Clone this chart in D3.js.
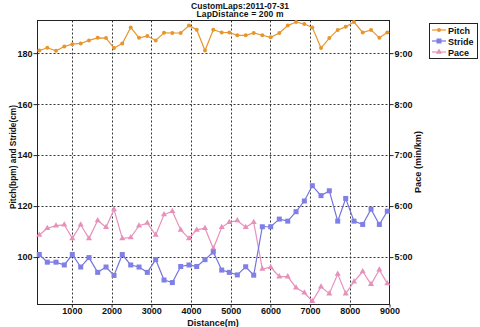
<!DOCTYPE html>
<html><head><meta charset="utf-8">
<script src="https://cdn.jsdelivr.net/npm/d3@7"></script>
<style>body{margin:0;background:#fff}svg{display:block}text{font-family:"Liberation Sans",Arial,sans-serif;font-weight:bold;fill:#111}</style>
</head><body><svg id="c" width="480" height="327"></svg>
<script>
const distances = [179,381,600,809,1011,1222,1431,1650,1860,2061,2270,2482,2691,2900,3111,3321,3530,3741,3950,4144,4353,4562,4774,4965,5167,5378,5580,5797,6008,6225,6437,6646,6855,7056,7275,7484,7696,7897,8106,8325,8535,8744,8945];
const pitch = [181.0,182.1,180.9,182.6,183.5,183.8,185.0,186.0,185.9,182.0,183.8,190.1,186.0,186.7,185.0,188.0,187.9,187.9,190.8,189.2,181.0,189.2,188.1,188.1,187.0,187.0,187.9,187.0,186.2,187.9,190.8,192.2,191.4,190.1,182.0,185.9,189.1,190.3,192.2,188.1,189.1,186.0,188.1];
const stride = [101.0,98.0,98.0,96.9,101.0,96.1,99.8,94.0,96.1,92.8,101.0,96.9,96.1,94.0,99.0,91.0,90.0,96.3,96.9,96.3,99.0,102.0,94.9,94.0,93.0,96.2,92.9,111.9,111.9,114.9,114.1,117.8,122.0,128.0,124.1,126.0,114.1,123.0,114.1,112.8,118.8,112.8,118.0];
const pace = ["5:26","5:34","5:37","5:38","5:22","5:38","5:22","5:43","5:35","5:56","5:22","5:23","5:37","5:40","5:26","5:50","5:54","5:32","5:22","5:32","5:34","5:10","5:35","5:41","5:43","5:35","5:41","4:46","4:48","4:37","4:37","4:24","4:18","4:08","4:25","4:17","4:40","4:17","4:31","4:43","4:28","4:45","4:29"];
const xTicks = [1000,2000,3000,4000,5000,6000,7000,8000,9000];
const leftTicks = [100,120,140,160,180];
const paceTicks = ["5:00","6:00","7:00","8:00","9:00"];
const titleLines = ["CustomLaps:2011-07-31","LapDistance = 200 m"];
const seriesNames = ["Pitch","Stride","Pace"];
const colors = {Pitch:"#e8962c",Stride:"#7474dc",Pace:"#e890bc"};

const toSec = s => { const [m,ss] = s.split(":").map(Number); return m*60+ss; };
const L = 37.5, R = 389.5, T = 20.5, B = 304.5;
const FS = "9px";
const svg = d3.select("#c");
const x = d3.scaleLinear().domain([134, 9000]).range([L, R]);
const y = d3.scaleLinear().domain([81.4, 192.8]).range([B, T]);
const yp = d3.scaleLinear().domain([244.2, 578.4]).range([B, T]);

svg.append("rect").attr("x",L).attr("y",T).attr("width",R-L).attr("height",B-T).attr("fill","#fff");

// grid
const g = svg.append("g").attr("stroke","#333").attr("stroke-width",1).attr("stroke-dasharray","2,2");
g.selectAll("line.v").data(xTicks.slice(0,-1)).join("line")
  .attr("x1",d=>Math.round(x(d))+0.5).attr("x2",d=>Math.round(x(d))+0.5).attr("y1",T).attr("y2",B);
g.selectAll("line.h").data(leftTicks).join("line")
  .attr("y1",d=>Math.round(y(d))+0.5).attr("y2",d=>Math.round(y(d))+0.5).attr("x1",L).attr("x2",R);

// axes
const axB = svg.append("g").attr("transform",`translate(0,${B})`)
  .call(d3.axisBottom(x).tickValues(xTicks).tickFormat(d3.format("d")).tickSize(3).tickSizeOuter(0).tickPadding(0));
const axL = svg.append("g").attr("transform",`translate(${L},0)`)
  .call(d3.axisLeft(y).tickValues(leftTicks).tickSize(4).tickSizeOuter(0).tickPadding(1));
const axR = svg.append("g").attr("transform",`translate(${R},0)`)
  .call(d3.axisRight(yp).tickValues(paceTicks.map(toSec)).tickFormat((d,i)=>paceTicks[i]).tickSize(4).tickSizeOuter(0).tickPadding(1));
[axB,axL,axR].forEach(a=>{
  a.select(".domain").remove();
  a.selectAll("line").attr("stroke","#222");
  a.selectAll("text").attr("font-size",FS).attr("font-family","Liberation Sans, Arial, sans-serif").attr("font-weight","bold").attr("fill","#111");
});
svg.append("rect").attr("x",L).attr("y",T).attr("width",R-L).attr("height",B-T).attr("fill","none").attr("stroke","#222");

// series
const pts = (vals, ys) => vals.map((v,i)=>[x(distances[i]), ys(v)]);
const line = d3.line();
const pitchPts = pts(pitch, y), stridePts = pts(stride, y), pacePts = pts(pace.map(toSec), yp);

function drawLine(p, c){ svg.append("path").attr("d",line(p)).attr("fill","none").attr("stroke",c).attr("stroke-width",1.2); }
drawLine(pacePts, colors.Pace);
drawLine(stridePts, colors.Stride);
drawLine(pitchPts, colors.Pitch);
const tri = d3.symbol().type(d3.symbolTriangle).size(16);
svg.append("g").selectAll("path").data(pacePts).join("path").attr("d",tri)
  .attr("transform",d=>`translate(${d[0]},${d[1]})`).attr("fill",colors.Pace);
svg.append("g").selectAll("rect").data(stridePts).join("rect")
  .attr("x",d=>d[0]-2.5).attr("y",d=>d[1]-2.5).attr("width",5).attr("height",5).attr("fill","#7f7fe6");
svg.append("g").selectAll("circle").data(pitchPts).join("circle")
  .attr("cx",d=>d[0]).attr("cy",d=>d[1]).attr("r",2).attr("fill",colors.Pitch);

// titles
const titleLen = [98, 87];
svg.selectAll("text.title").data(titleLines).join("text").attr("class","title")
  .attr("x",240).attr("y",(d,i)=>8.5+i*8.5).attr("text-anchor","middle").attr("font-size","8.5px")
  .attr("textLength",(d,i)=>titleLen[i]).attr("lengthAdjust","spacing").text(d=>d);
svg.append("text").attr("x",213).attr("y",325.5).attr("text-anchor","middle").attr("font-size",FS).text("Distance(m)");
svg.append("text").attr("transform","translate(15.5,157) rotate(-90)").attr("text-anchor","middle").attr("font-size",FS)
  .attr("textLength",104).attr("lengthAdjust","spacingAndGlyphs").text("Pitch(bpm) and Stride(cm)");
svg.append("text").attr("transform","translate(421,162) rotate(-90)").attr("text-anchor","middle").attr("font-size",FS)
  .attr("textLength",62).attr("lengthAdjust","spacingAndGlyphs").text("Pace (min/km)");

// legend
const lg = svg.append("g");
lg.append("rect").attr("x",429.5).attr("y",23.5).attr("width",48).attr("height",35).attr("fill","#fff").attr("stroke","#222");
seriesNames.forEach((n,i)=>{
  const yy = 30 + i*11;
  lg.append("line").attr("x1",432).attr("x2",446).attr("y1",yy).attr("y2",yy).attr("stroke",colors[n]).attr("stroke-width",1.2);
  if(n==="Pitch") lg.append("circle").attr("cx",439).attr("cy",yy).attr("r",2).attr("fill",colors[n]);
  if(n==="Stride") lg.append("rect").attr("x",436.5).attr("y",yy-2.5).attr("width",5).attr("height",5).attr("fill","#7f7fe6");
  if(n==="Pace") lg.append("path").attr("d",tri).attr("transform",`translate(439,${yy})`).attr("fill",colors[n]);
  lg.append("text").attr("x",448).attr("y",yy+3.5).attr("font-size",FS).text(n);
});
</script></body></html>
